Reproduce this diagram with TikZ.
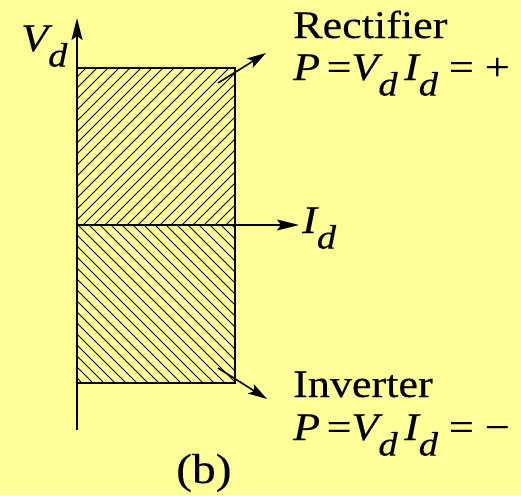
\documentclass[tikz,border=0pt]{standalone}
\usepackage{fontspec}
\setmainfont[FakeStretch=1.13,FakeBold=0.3]{Liberation Serif}
\usetikzlibrary{arrows.meta}
\definecolor{bgyellow}{HTML}{FFFF99}
\newcommand{\sbd}{\raisebox{-0.4em}{\fontsize{34}{34}\selectfont\itshape d}}
\tikzset{
  axis/.style={line width=1.5pt,-{Stealth[length=22pt,width=11pt,inset=4pt]}},
  boxline/.style={line width=1.5pt},
  hatch/.style={line width=0.9pt},
  callout/.style={line width=1.6pt,-{Stealth[length=19pt,width=11pt,inset=4pt]}},
  lbl/.style={inner sep=0pt,font=\fontsize{39}{42}\selectfont},
}
\begin{document}
\begin{tikzpicture}[x=1pt,y=-1pt]
\fill[bgyellow] (0,0) rectangle (521,495);
\useasboundingbox (0,0) rectangle (521,495);
% hatching
\begin{scope}
\clip (77,68) rectangle (235,225);
\foreach \c in {0,11,...,480} {\draw[hatch] (\c-250,250) -- (\c,0);}
\end{scope}
\begin{scope}
\clip (77,225) rectangle (235,383);
\foreach \c in {-400,-389,...,200} {\draw[hatch] (\c,0) -- (\c+500,500);}
\end{scope}
\coordinate (bot) at (77,430);
\coordinate (top) at (77,18);
\coordinate (O) at (77,225);
\coordinate (xend) at (299,225);
\draw[boxline] (77,68) rectangle (235,383);
\draw[axis] (bot) -- (top);
\draw[axis] (O) -- (xend);
\coordinate (ua) at (218,83);
\coordinate (ub) at (266,53);
\coordinate (la) at (218,368);
\coordinate (lb) at (267,399);
\draw[callout] (ua) -- (ub);
\draw[callout] (la) -- (lb);
\node[lbl,anchor=base west] (vd) at (21,51) {\itshape V\sbd};
\node[lbl,anchor=base west] (id) at (302,233) {\itshape I\sbd};
\node[lbl,anchor=base west] (rect) at (293,38) {Rectifier};
\node[lbl,anchor=base west] (req) at (293,80) {\itshape P\,\upshape=\itshape V\sbd\,I\sbd\upshape\ = +};
\node[lbl,anchor=base west] (inv) at (293,397) {Inverter};
\node[lbl,anchor=base west] (ieq) at (293,440) {\itshape P\,\upshape=\itshape V\sbd\,I\sbd\upshape\ = \textminus};
\node[lbl,anchor=base west,font=\fontsize{42}{44}\selectfont] (b) at (176,483) {(b)};
\end{tikzpicture}
\end{document}
